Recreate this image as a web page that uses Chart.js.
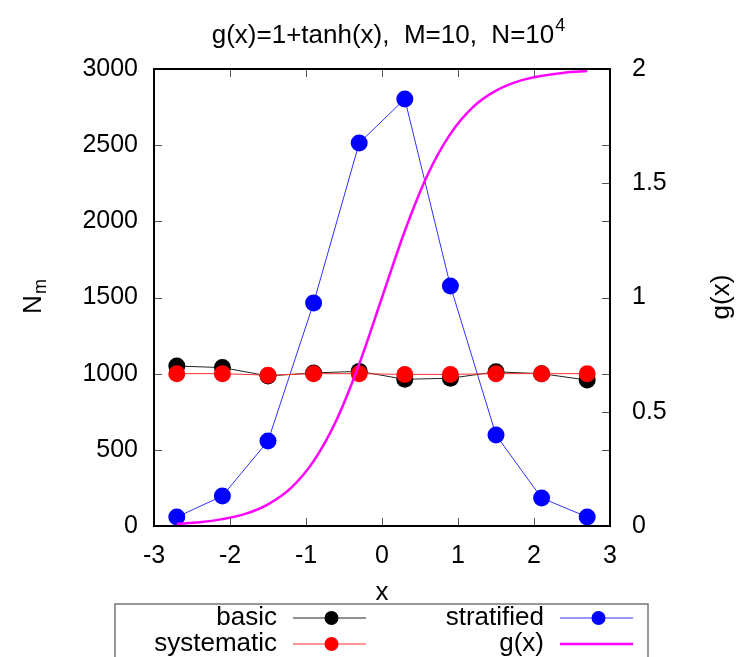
<!DOCTYPE html>
<html>
<head>
<meta charset="utf-8">
<script src="https://cdn.jsdelivr.net/npm/chart.js@4.4.1/dist/chart.umd.min.js"></script>
<style>
    html, body { margin: 0; padding: 0; background: #fff; }
    #wrap { width: 737px; height: 657px; }
</style>
</head>
<body>
<div id="wrap"><canvas id="chart" width="737" height="657"></canvas></div>
<script>
// Bin centres (M = 10 bins on [-3, 3])
const binCenters = [-2.7, -2.1, -1.5, -0.9, -0.3, 0.3, 0.9, 1.5, 2.1, 2.7];

// Counts per bin
const basicCounts      = [1050, 1040, 985, 1005, 1015, 963, 970, 1012, 1000, 958];
const systematicCounts = [1000, 1000, 990, 1000, 1000, 995, 995, 1000, 1000, 1000];
const stratifiedCounts = [59, 197, 558, 1464, 2514, 2803, 1576, 597, 184, 59];

// g(x) curve (right axis)
const gxX      = [-2.7, -2.4, -2.1, -1.8, -1.5, -1.2, -0.9, -0.6, -0.3, 0, 0.3, 0.6, 0.9, 1.2, 1.5, 1.8, 2.1, 2.4, 2.7];
const gxValues = [0.009, 0.016, 0.030, 0.053, 0.095, 0.166, 0.284, 0.463, 0.709, 1.0, 1.291, 1.537, 1.716, 1.834, 1.905, 1.947, 1.970, 1.984, 1.991];

// Tick values
const xTickValues  = [-3, -2, -1, 0, 1, 2, 3];
const yTickValues  = [0, 500, 1000, 1500, 2000, 2500, 3000];
const y2TickValues = [0, 0.5, 1, 1.5, 2];

// Legend order (gnuplot fills the key column by column)
const legendOrder = ['basic', 'systematic', 'stratified', 'g(x)'];

const FONT = "'Liberation Sans', Arial, sans-serif";
const TICK_SIZE = 25;
const TEXT_SIZE = 26;

function toPoints(xs, ys) {
    return xs.map((x, i) => ({ x: x, y: ys[i] }));
}

// Frame, inward ticks, titles and legend (gnuplot look)
const decorPlugin = {
    id: 'decor',
    afterDatasetsDraw(chart) {
        const ctx = chart.ctx;
        const a = chart.chartArea;
        const sx = chart.scales.x, sy = chart.scales.y, sy2 = chart.scales.y2;
        const tl = 8;

        ctx.save();
        // inward tick marks
        ctx.strokeStyle = '#555';
        ctx.lineWidth = 1;
        ctx.beginPath();
        xTickValues.forEach(v => {
            const px = Math.round(sx.getPixelForValue(v)) + 0.5;
            ctx.moveTo(px, a.bottom); ctx.lineTo(px, a.bottom - tl);
            ctx.moveTo(px, a.top); ctx.lineTo(px, a.top + tl);
        });
        yTickValues.forEach(v => {
            const py = Math.round(sy.getPixelForValue(v)) + 0.5;
            ctx.moveTo(a.left, py); ctx.lineTo(a.left + tl, py);
            ctx.moveTo(a.right, py); ctx.lineTo(a.right - tl, py);
        });
        y2TickValues.forEach(v => {
            const py = Math.round(sy2.getPixelForValue(v)) + 0.5;
            ctx.moveTo(a.right, py); ctx.lineTo(a.right - tl, py);
        });
        ctx.stroke();

        // frame
        ctx.strokeStyle = '#000';
        ctx.lineWidth = 2;
        ctx.strokeRect(a.left, a.top, a.right - a.left, a.bottom - a.top);

        // title with superscript
        ctx.fillStyle = '#000';
        ctx.textBaseline = 'alphabetic';
        const tMain = 'g(x)=1+tanh(x),  M=10,  N=10';
        ctx.font = TEXT_SIZE + 'px ' + FONT;
        const wMain = ctx.measureText(tMain).width;
        ctx.font = '18px ' + FONT;
        const wSup = ctx.measureText('4').width;
        const tx = 388 - (wMain + wSup) / 2;
        ctx.font = TEXT_SIZE + 'px ' + FONT;
        ctx.textAlign = 'left';
        ctx.fillText(tMain, tx, 43);
        ctx.font = '18px ' + FONT;
        ctx.fillText('4', tx + wMain + 1, 31);

        // x axis label
        ctx.font = TEXT_SIZE + 'px ' + FONT;
        ctx.textAlign = 'center';
        ctx.textBaseline = 'middle';
        ctx.fillText('x', (a.left + a.right) / 2, 593);

        // left axis label N_m
        ctx.save();
        ctx.translate(32, 297);
        ctx.rotate(-Math.PI / 2);
        ctx.textAlign = 'left';
        ctx.textBaseline = 'alphabetic';
        ctx.font = TEXT_SIZE + 'px ' + FONT;
        const wN = ctx.measureText('N').width;
        ctx.font = '18px ' + FONT;
        const wM = ctx.measureText('m').width;
        ctx.font = TEXT_SIZE + 'px ' + FONT;
        ctx.fillText('N', -(wN + wM) / 2, 9);
        ctx.font = '18px ' + FONT;
        ctx.fillText('m', -(wN + wM) / 2 + wN + 1, 14);
        ctx.restore();

        // right axis label g(x)
        ctx.save();
        ctx.translate(722, 297);
        ctx.rotate(-Math.PI / 2);
        ctx.textAlign = 'center';
        ctx.textBaseline = 'middle';
        ctx.font = TEXT_SIZE + 'px ' + FONT;
        ctx.fillText('g(x)', 0, 0);
        ctx.restore();

        // legend box
        ctx.strokeStyle = '#777';
        ctx.lineWidth = 1.5;
        ctx.strokeRect(115, 604, 648 - 115, 70);

        const rows = [618, 644];
        legendOrder.forEach((name, i) => {
            const ds = chart.data.datasets.find(d => d.label === name);
            const col = Math.floor(i / 2);
            const row = i % 2;
            const textRight = col === 0 ? 277 : 544;
            const lx0 = col === 0 ? 293 : 560;
            const lx1 = lx0 + 73;
            const y = rows[row];
            ctx.fillStyle = '#000';
            ctx.font = TEXT_SIZE + 'px ' + FONT;
            ctx.textAlign = 'right';
            ctx.textBaseline = 'middle';
            ctx.fillText(ds.label, textRight, y);
            ctx.strokeStyle = ds.borderColor;
            ctx.lineWidth = ds.borderWidth;
            ctx.beginPath();
            ctx.moveTo(lx0, y); ctx.lineTo(lx1, y);
            ctx.stroke();
            if (ds.pointRadius > 0) {
                ctx.fillStyle = ds.pointBackgroundColor;
                ctx.beginPath();
                ctx.arc((lx0 + lx1) / 2 + 2, y, 7, 0, Math.PI * 2);
                ctx.fill();
            }
        });
        ctx.restore();
    }
};

const tickFont = { family: FONT, size: TICK_SIZE };
const plainLabel = v => String(v);

new Chart(document.getElementById('chart'), {
    type: 'line',
    data: {
        datasets: [
            {
                label: 'g(x)',
                data: toPoints(gxX, gxValues),
                yAxisID: 'y2',
                borderColor: '#ff00ff',
                borderWidth: 2.5,
                pointRadius: 0,
                cubicInterpolationMode: 'monotone',
                order: 0
            },
            {
                label: 'systematic',
                data: toPoints(binCenters, systematicCounts),
                yAxisID: 'y',
                borderColor: '#ff3030',
                borderWidth: 1,
                pointRadius: 8.5,
                pointBorderWidth: 0,
                pointBackgroundColor: '#ff0000',
                order: 1
            },
            {
                label: 'basic',
                data: toPoints(binCenters, basicCounts),
                yAxisID: 'y',
                borderColor: '#222',
                borderWidth: 1,
                pointRadius: 8.5,
                pointBorderWidth: 0,
                pointBackgroundColor: '#000000',
                order: 2
            },
            {
                label: 'stratified',
                data: toPoints(binCenters, stratifiedCounts),
                yAxisID: 'y',
                borderColor: '#3030ff',
                borderWidth: 1,
                pointRadius: 8.5,
                pointBorderWidth: 0,
                pointBackgroundColor: '#0000ff',
                order: 3
            }
        ]
    },
    options: {
        responsive: false,
        animation: false,
        devicePixelRatio: 1,
        layout: { padding: { top: 69, left: 0, right: 0, bottom: 0 } },
        plugins: {
            legend: { display: false },
            title: { display: false },
            tooltip: { enabled: false }
        },
        elements: { line: { tension: 0 } },
        scales: {
            x: {
                type: 'linear',
                min: -3, max: 3,
                afterFit(scale) { scale.height = 131; },
                afterBuildTicks(scale) { scale.ticks = xTickValues.map(v => ({ value: v })); },
                grid: { display: false, drawTicks: false },
                border: { display: false },
                ticks: { font: tickFont, color: '#000', padding: 15, maxRotation: 0, callback: plainLabel }
            },
            y: {
                type: 'linear',
                position: 'left',
                min: 0, max: 3000,
                afterFit(scale) { scale.width = 154; },
                afterBuildTicks(scale) { scale.ticks = yTickValues.map(v => ({ value: v })); },
                grid: { display: false, drawTicks: false },
                border: { display: false },
                ticks: { font: tickFont, color: '#000', padding: 16, callback: plainLabel }
            },
            y2: {
                type: 'linear',
                position: 'right',
                min: 0, max: 2,
                afterFit(scale) { scale.width = 127; },
                afterBuildTicks(scale) { scale.ticks = y2TickValues.map(v => ({ value: v })); },
                grid: { display: false, drawTicks: false },
                border: { display: false },
                ticks: { font: tickFont, color: '#000', padding: 22, callback: plainLabel }
            }
        }
    },
    plugins: [decorPlugin]
});
</script>
</body>
</html>
